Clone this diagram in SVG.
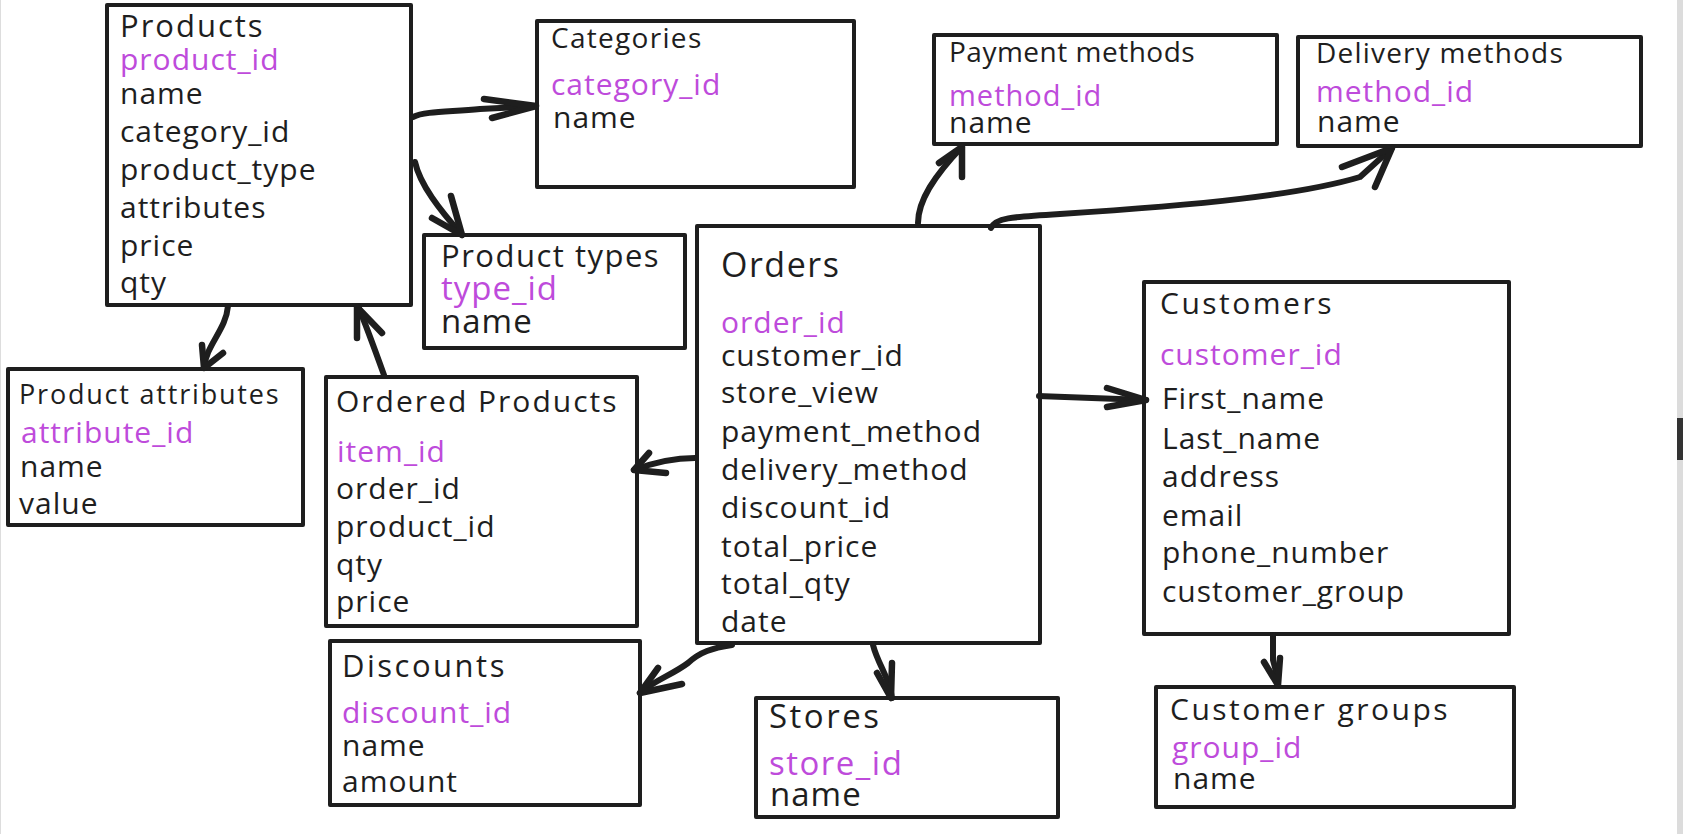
<svg xmlns="http://www.w3.org/2000/svg" width="1683" height="834" viewBox="0 0 1683 834">
<style>
.box{fill:#fff;stroke:#1e1e1e;stroke-width:4;stroke-linejoin:round}
#connectors path{fill:none;stroke:#1e1e1e;stroke-width:6;stroke-linecap:round;stroke-linejoin:round}
#connectors path.head{stroke-width:6.5}
text{font-family:"Open Sans",sans-serif;fill:#1e1e1e}
.t{font-size:30px;letter-spacing:2px}
.f{font-size:30px;letter-spacing:1px}
.pk{fill:#be4bdb}
.big{font-size:33px}
</style>
<rect x="0" y="0" width="1683" height="834" fill="#fff"/>
<rect x="0" y="0" width="1" height="834" fill="#dddddd"/>
<rect x="1677" y="0" width="6" height="834" fill="#dcdcdc"/>
<rect x="1677" y="418" width="6" height="42" fill="#333"/>

<g id="products">
<rect class="box" x="107" y="5" width="304" height="300"/>
<text class="t" x="120" y="37" style="font-size:31px">Products</text>
<text class="f pk" x="120" y="70">product_id</text>
<text class="f" x="120" y="104">name</text>
<text class="f" x="120" y="142">category_id</text>
<text class="f" x="120" y="180">product_type</text>
<text class="f" x="120" y="218">attributes</text>
<text class="f" x="120" y="256">price</text>
<text class="f" x="120" y="293">qty</text>
</g>
<g id="categories">
<rect class="box" x="537" y="21" width="317" height="166"/>
<text class="t" x="551" y="48" style="font-size:28px;letter-spacing:1.3px">Categories</text>
<text class="f pk" x="551" y="95">category_id</text>
<text class="f" x="553" y="128">name</text>
</g>
<g id="product-types">
<rect class="box" x="424" y="235" width="261" height="113"/>
<text class="t" x="441" y="267" style="font-size:31px;letter-spacing:1.5px">Product types</text>
<text class="f pk big" x="441" y="300">type_id</text>
<text class="f big" x="441" y="333">name</text>
</g>
<g id="payment-methods">
<rect class="box" x="934" y="35" width="343" height="109"/>
<text class="t" x="949" y="62" style="font-size:28px;letter-spacing:0.5px">Payment methods</text>
<text class="f pk" x="949" y="106" style="font-size:29px">method_id</text>
<text class="f" x="949" y="133">name</text>
</g>
<g id="delivery-methods">
<rect class="box" x="1298" y="37" width="343" height="109"/>
<text class="t" x="1316" y="63" style="font-size:28px;letter-spacing:1.2px">Delivery methods</text>
<text class="f pk" x="1316" y="102">method_id</text>
<text class="f" x="1317" y="132">name</text>
</g>
<g id="orders">
<rect class="box" x="697" y="226" width="343" height="417"/>
<text class="t" x="721" y="277" style="font-size:34px;letter-spacing:1.5px">Orders</text>
<text class="f pk" x="721" y="333">order_id</text>
<text class="f" x="721" y="366">customer_id</text>
<text class="f" x="721" y="403">store_view</text>
<text class="f" x="721" y="442">payment_method</text>
<text class="f" x="721" y="480">delivery_method</text>
<text class="f" x="721" y="518">discount_id</text>
<text class="f" x="721" y="557">total_price</text>
<text class="f" x="721" y="594">total_qty</text>
<text class="f" x="721" y="632">date</text>
</g>
<g id="customers">
<rect class="box" x="1144" y="282" width="365" height="352"/>
<text class="t" x="1160" y="314" style="letter-spacing:2.5px">Customers</text>
<text class="f pk" x="1160" y="365">customer_id</text>
<text class="f" x="1162" y="409">First_name</text>
<text class="f" x="1162" y="449">Last_name</text>
<text class="f" x="1162" y="487">address</text>
<text class="f" x="1162" y="526">email</text>
<text class="f" x="1162" y="563">phone_number</text>
<text class="f" x="1162" y="602">customer_group</text>
</g>
<g id="product-attributes">
<rect class="box" x="8" y="369" width="295" height="156"/>
<text class="t" x="19" y="404" style="font-size:27px;letter-spacing:1.8px">Product attributes</text>
<text class="f pk" x="21" y="443">attribute_id</text>
<text class="f" x="20" y="477">name</text>
<text class="f" x="19" y="514">value</text>
</g>
<g id="ordered-products">
<rect class="box" x="326" y="377" width="311" height="249"/>
<text class="t" x="336" y="412">Ordered Products</text>
<text class="f pk" x="337" y="462">item_id</text>
<text class="f" x="336" y="499">order_id</text>
<text class="f" x="336" y="537">product_id</text>
<text class="f" x="336" y="575">qty</text>
<text class="f" x="336" y="612">price</text>
</g>
<g id="discounts">
<rect class="box" x="330" y="641" width="310" height="164"/>
<text class="t" x="342" y="677" style="font-size:31px;letter-spacing:2.5px">Discounts</text>
<text class="f pk" x="342" y="723">discount_id</text>
<text class="f" x="342" y="756">name</text>
<text class="f" x="342" y="792">amount</text>
</g>
<g id="stores">
<rect class="box" x="756" y="698" width="302" height="119"/>
<text class="t" x="769" y="728" style="font-size:33px;letter-spacing:2.5px">Stores</text>
<text class="f pk big" x="769" y="775" style="letter-spacing:1.5px">store_id</text>
<text class="f big" x="770" y="806">name</text>
</g>
<g id="customer-groups">
<rect class="box" x="1156" y="687" width="358" height="120"/>
<text class="t" x="1170" y="720" style="letter-spacing:2.5px">Customer groups</text>
<text class="f pk" x="1172" y="758">group_id</text>
<text class="f" x="1173" y="789">name</text>
</g>

<g id="connectors">
<path d="M413,117 C425,111 450,112 480,109 L536,106"/>
<path class="head" d="M484,99 L536,106 L492,118"/>
<path d="M415,162 C420,185 440,210 462,235"/>
<path class="head" d="M451,196 L462,235 L432,218"/>
<path d="M228,306 C226,330 206,345 204,368"/>
<path class="head" d="M202,345 L204,368 L223,353"/>
<path d="M384,375 C375,350 366,325 358,306"/>
<path class="head" d="M357,338 L357,307 L382,333"/>
<path d="M918,223 C918,200 935,175 962,147"/>
<path class="head" d="M939,163 L962,147 L962,177"/>
<path d="M991,228 C995,218 1010,217 1060,214 C1200,205 1300,195 1360,177 L1392,148"/>
<path class="head" d="M1342,167 L1392,148 L1375,187"/>
<path d="M1039,396 C1070,397 1100,398 1146,400"/>
<path class="head" d="M1107,388 L1146,400 L1107,407"/>
<path d="M695,458 C675,458 655,462 634,470"/>
<path class="head" d="M649,453 L634,470 L666,473"/>
<path d="M732,645 C712,648 700,652 688,663 C672,675 655,680 640,693"/>
<path class="head" d="M658,668 L640,693 L682,684"/>
<path d="M873,645 C878,665 890,678 892,698"/>
<path class="head" d="M877,673 L891,698 L892,663"/>
<path d="M1273,635 L1273,660 C1275,668 1278,676 1278,685"/>
<path class="head" d="M1264,662 L1278,685 L1280,658"/>
</g>
</svg>
